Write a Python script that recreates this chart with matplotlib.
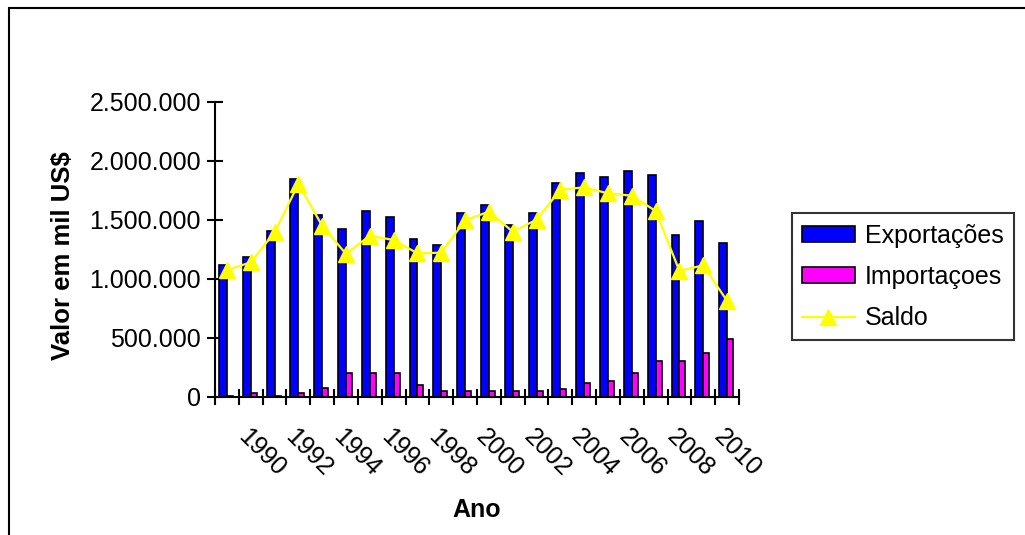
import numpy as np
import matplotlib
matplotlib.use("Agg")
import matplotlib.pyplot as plt
from matplotlib.patches import Rectangle
from matplotlib.ticker import FixedLocator, NullFormatter, FuncFormatter
import matplotlib.transforms as mtransforms

plt.rcParams['font.family'] = ['Liberation Sans', 'DejaVu Sans']

years = list(range(1989, 2011))
exportacoes = [1117000, 1183000, 1405000, 1843000, 1541000, 1420000, 1575000, 1521000,
               1335000, 1287000, 1561000, 1625000, 1453000, 1561000, 1809000, 1894000,
               1863000, 1913000, 1879000, 1369000, 1487000, 1301000]
importacoes = [12000, 30000, 12000, 30000, 79000, 200000, 200000, 200000,
               99000, 51000, 51000, 51000, 51000, 51000, 65000, 116000,
               133000, 200000, 302000, 302000, 370000, 489000]
saldo = [1075000, 1140000, 1394000, 1803000, 1450000, 1211000, 1366000, 1329000,
         1216000, 1222000, 1496000, 1569000, 1400000, 1501000, 1755000, 1775000,
         1724000, 1704000, 1575000, 1067000, 1115000, 813000]
shown_labels = ['1990', '1992', '1994', '1996', '1998', '2000', '2002', '2004',
                '2006', '2008', '2010']
series_names = ['Exportações', 'Importaçoes', 'Saldo']
yticks = [0, 500000, 1000000, 1500000, 2000000, 2500000]

FS = 18
W, H = 1025, 535
fig = plt.figure(figsize=(W / 100, H / 100), dpi=100)
fig.patch.set_facecolor('white')

ax_l, ax_r, ax_t, ax_b = 215, 739, 101.7, 397
ax = fig.add_axes([ax_l / W, 1 - ax_b / H, (ax_r - ax_l) / W, (ax_b - ax_t) / H])

x = np.arange(len(years))
b1 = ax.bar(x - 0.333, exportacoes, width=0.333, align='edge', color='#0000FF',
            edgecolor='black', linewidth=1.2, label=series_names[0], zorder=2)
b2 = ax.bar(x, importacoes, width=0.25, align='edge', color='#FF00FF',
            edgecolor='black', linewidth=1.2, label=series_names[1], zorder=2)
l3, = ax.plot(x, saldo, color='#FFFF00', linewidth=1.6, marker='^', markersize=11,
              markerfacecolor='#FFFF00', markeredgecolor='#FFFF00',
              label=series_names[2], zorder=3)

ax.set_xlim(-0.5, len(years) - 0.5)
ax.set_ylim(0, 2500000)

for s in ['top', 'right']:
    ax.spines[s].set_visible(False)
for s in ['left', 'bottom']:
    ax.spines[s].set_linewidth(1.5)

# y axis
ax.yaxis.set_major_locator(FixedLocator(yticks))
ax.yaxis.set_major_formatter(FuncFormatter(lambda v, p: f"{int(v):,}".replace(',', '.')))
ax.tick_params(axis='y', direction='inout', length=12, width=1.5, labelsize=FS, pad=4)

# x axis: ticks at category boundaries, labels on every second category
ax.xaxis.set_major_locator(FixedLocator(np.arange(-0.5, len(years), 1.0)))
ax.xaxis.set_major_formatter(NullFormatter())
label_pos = [years.index(int(s)) for s in shown_labels]
ax.xaxis.set_minor_locator(FixedLocator(label_pos))
ax.set_xticklabels(shown_labels, minor=True)
ax.tick_params(axis='x', which='major', direction='inout', length=12, width=1.5)
ax.tick_params(axis='x', which='minor', length=0, labelsize=FS, pad=26)
offset = mtransforms.ScaledTranslation(-9 / 100, 0, fig.dpi_scale_trans)
for lab in ax.get_xticklabels(minor=True):
    lab.set_rotation(-45)
    lab.set_rotation_mode('anchor')
    lab.set_ha('left')
    lab.set_va('center')
    lab.set_transform(lab.get_transform() + offset)

fig.text(63 / W, 1 - 256 / H, 'Valor em mil US$', rotation=90, ha='center',
         va='center', fontsize=18.5, fontweight='bold')
fig.text(477 / W, 1 - 510 / H, 'Ano', ha='center', va='center', fontsize=FS,
         fontweight='bold')

leg = ax.legend(handles=[b1, b2, l3], labels=series_names,
                loc='upper left', bbox_to_anchor=(791.7 / W, 1 - 213.3 / H),
                bbox_transform=fig.transFigure, fontsize=FS, frameon=True,
                fancybox=False, shadow=False, borderaxespad=0, borderpad=0.42,
                handlelength=2.1, handletextpad=0.4, labelspacing=0.68,
                handleheight=0.56)
leg.get_frame().set_edgecolor('black')
leg.get_frame().set_linewidth(1.5)

fig.patches.append(Rectangle((9 / W, -0.1), 1.2, (1 - 8 / H) + 0.1,
                             transform=fig.transFigure, fill=False,
                             edgecolor='black', linewidth=1.5))

fig.savefig('out.png', dpi=100, facecolor='white')
